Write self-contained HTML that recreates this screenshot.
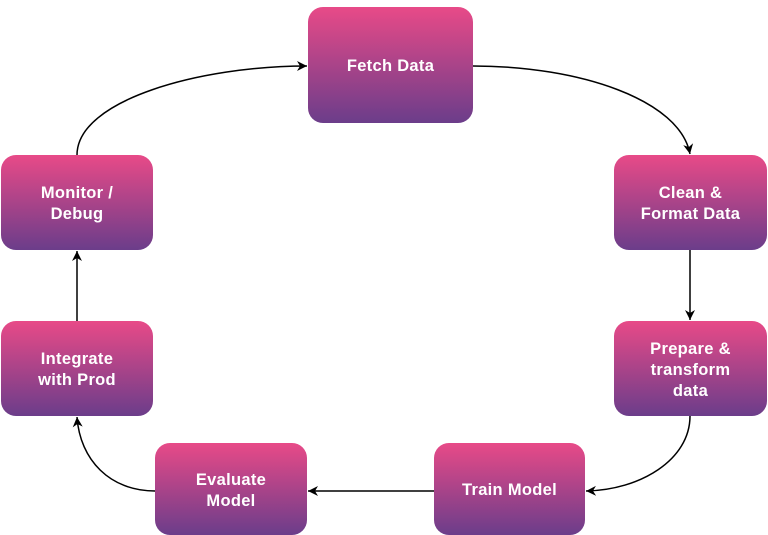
<!DOCTYPE html>
<html><head><style>
body{margin:0;background:#fff;width:768px;height:535px;overflow:hidden;font-family:"Liberation Sans",sans-serif;}
.b{position:absolute;border-radius:15px;background:linear-gradient(#e84a88,#6b3d8a);color:#fff;display:flex;align-items:center;justify-content:center;text-align:center;font-size:16.5px;line-height:21px;font-weight:bold;letter-spacing:0.3px;padding-top:3px;box-sizing:border-box}
svg{position:absolute;left:0;top:0}
</style></head><body>
<svg width="768" height="535">
<defs><marker id="a" markerWidth="12" markerHeight="12" refX="10" refY="6" orient="auto" markerUnits="userSpaceOnUse"><path d="M0,1 L10,6 L0,11 L3,6 Z" fill="#000"/></marker></defs>
<g fill="none" stroke="#000" stroke-width="1.5">
<path d="M473,66 C580,66 680,100 690,154" marker-end="url(#a)"/>
<path d="M690,250 L690,320" marker-end="url(#a)"/>
<path d="M690,416 C690,460 640,490 586,491" marker-end="url(#a)"/>
<path d="M434,491 L308,491" marker-end="url(#a)"/>
<path d="M155,491 C110,491 80,460 77,417" marker-end="url(#a)"/>
<path d="M77,321 L77,251" marker-end="url(#a)"/>
<path d="M77,155 C77,100 200,66 307,66" marker-end="url(#a)"/>
</g></svg>
<div class="b" style="left:308px;top:7px;width:165px;height:116px">Fetch Data</div>
<div class="b" style="left:614px;top:155px;width:153px;height:95px">Clean &amp;<br>Format Data</div>
<div class="b" style="left:614px;top:321px;width:153px;height:95px">Prepare &amp;<br>transform<br>data</div>
<div class="b" style="left:434px;top:443px;width:151px;height:92px">Train Model</div>
<div class="b" style="left:155px;top:443px;width:152px;height:92px">Evaluate<br>Model</div>
<div class="b" style="left:1px;top:321px;width:152px;height:95px">Integrate<br>with Prod</div>
<div class="b" style="left:1px;top:155px;width:152px;height:95px">Monitor /<br>Debug</div>
</body></html>
